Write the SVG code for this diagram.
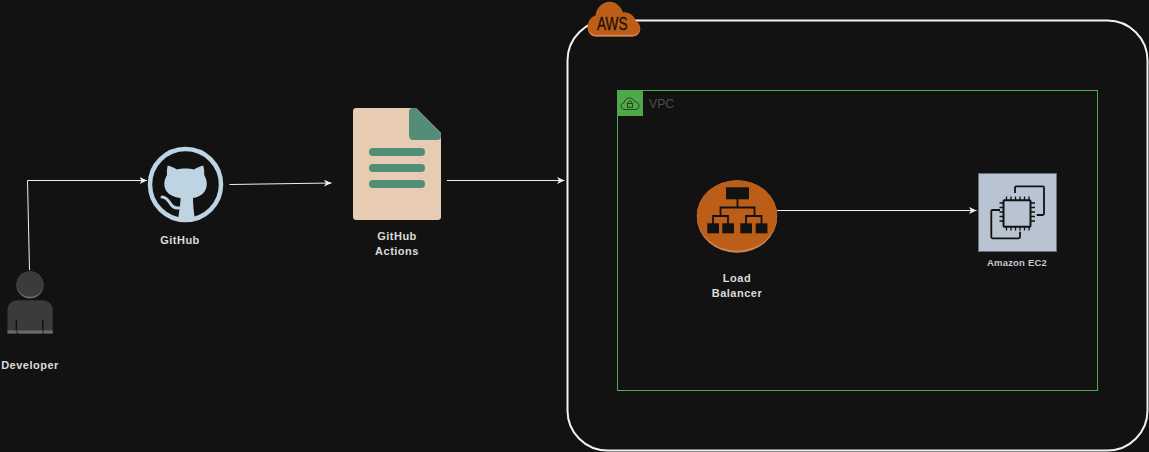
<svg xmlns="http://www.w3.org/2000/svg" width="1149" height="452" viewBox="0 0 1149 452">
<style>
text{font-family:"Liberation Sans",Arial,sans-serif;font-weight:700;font-size:11px;letter-spacing:.5px;fill:#dcdcdc;text-anchor:middle}
.c{fill:none;stroke:#f0f0f0;stroke-width:1;marker-end:url(#a)}
.k{fill:#121212}
.d{fill:#538d78}
.i{fill:none;stroke:#121212;stroke-width:1.8}
</style>
<defs>
<marker id="a" markerUnits="userSpaceOnUse" markerWidth="9" markerHeight="8" refX="7.5" refY="4" orient="auto"><path d="M0 0.5L7.5 4L0 7.5L2 4Z" fill="#f0f0f0"/></marker>
</defs>
<rect width="1149" height="452" fill="#121212"/>
<g id="aws">
<rect x="567.5" y="20.5" width="580" height="430" rx="40" fill="#121212" stroke="#f2f2f2" stroke-width="2"/>
<path d="M596 36.500C590 36.500 587.700 31 587.700 26.500C587.700 21 591 17 595.500 15.500C596.500 7 603 1.700 609.500 1.700C616 1.700 621 6.500 623 12.500C625 12 627 12.500 628.500 13C632.500 14.500 635 17.500 635.500 20.500C638.500 22 640.300 25 640.300 28.500C640.300 33 636.500 36.500 632 36.500Z" fill="#bd5e18"/>
<path d="M587.700 27C588.500 32 592 34.800 596 34.800H632C636 34.800 639.500 32.500 640.300 28.500C640.300 33 636.500 36.500 632 36.500H596C590.500 36.500 587.700 31.500 587.700 27Z" fill="#d08850"/>
<text x="612.300" y="30" textLength="30.500" lengthAdjust="spacingAndGlyphs" style="font-size:18px;letter-spacing:0;fill:#1a1208;font-weight:400;stroke:#1a1208;stroke-width:.3">AWS</text>
</g>
<g id="vpc">
<rect x="617.5" y="90.500" width="480" height="300" fill="none" stroke="#4cae4c" stroke-width="1"/>
<rect x="617" y="90" width="26" height="26" fill="#4fa84a"/>
<path d="M625 109.500C622 109.500 621 107.500 621 106C621 104 622.500 103 624 102.800C624.500 100 627 98 629.500 98C632 98 634 99.500 634.800 101.800C637.500 101.800 639 103.800 639 105.700C639 108 637.500 109.500 635 109.500Z" fill="none" stroke="#1c2b1a" stroke-width=".8"/>
<rect x="627.600" y="103.500" width="4.800" height="3.800" fill="none" stroke="#1c2b1a" stroke-width=".8"/>
<path d="M628.500 103.500V102.300A1.500 1.500 0 0 1 631.500 102.300V103.500" fill="none" stroke="#1c2b1a" stroke-width=".7"/>
<text x="649" y="108" style="font-size:12.200px;letter-spacing:0;font-weight:400;fill:#465049;text-anchor:start">VPC</text>
</g>
<g id="connectors">
<path class="c" d="M29.500 270L27.500 180.500H147"/>
<path class="c" d="M229.500 184.500L331.500 183"/>
<path class="c" d="M447 180.500H564.500"/>
<path class="c" d="M777 210.500H976.500"/>
</g>
<g id="developer">
<circle cx="30" cy="285" r="13.500" fill="#6a6b6a"/>
<ellipse cx="30" cy="284" rx="13.500" ry="12.800" fill="#393c3a"/>
<path d="M7.500 333.500V310C7.500 304 12 300.200 18 300.200H42C48 300.200 52.700 304 52.700 310V333.500Z" fill="#393c3a"/>
<path d="M7.500 330.500H16.500V333.500H7.500ZM18 330.500H42.500V333.500H18ZM44 330.500H52.700V333.500H44Z" fill="#6a6b6a"/>
<path d="M16.300 319.500V330M42.800 319.500V330" stroke="#121212" stroke-width="1.500" fill="none"/>
<text x="30" y="369">Developer</text>
</g>
<g id="github">
<circle cx="185.500" cy="184.500" r="35.500" fill="none" stroke="#bed4e2" stroke-width="4.500"/>
<path d="M167.700 165.500C171 166 174.500 168 177 169.500C182 168.300 189 168.300 194 169.500C196.500 168 200 166 203.200 165.500C204 168.500 204.500 172 204.200 175C206 178 206.800 181 206.800 184C206.800 192 200.500 197 193 198C193 203 193.500 210 195 219.500H178C179.500 210 180.500 203 180.500 198C171 197 164.300 192 164.300 184C164.300 181 165.300 178 167 175C166.700 172 167 168.500 167.700 165.500Z" fill="#bed4e2"/>
<path d="M162 197C166 197 168 200 170 203C172 206.500 175 208.500 179 208" fill="none" stroke="#bed4e2" stroke-width="3" stroke-linecap="round"/>
<text x="180" y="244">GitHub</text>
</g>
<g id="actions">
<path d="M356 108H416L441 133V217C441 218.700 439.700 220 438 220H356C354.300 220 353 218.700 353 217V111C353 109.300 354.300 108 356 108Z" fill="#e7cbb3"/>
<path d="M412.500 108H416L441 133.500V136.500C441 138.500 439.500 140 437.500 140H413C410.800 140 409 138.200 409 136V111.500C409 109.500 410.500 108 412.500 108Z" class="d"/>
<rect x="369" y="148" width="56" height="8" rx="4" class="d"/>
<rect x="369" y="164" width="56" height="8" rx="4" class="d"/>
<rect x="369" y="180" width="56" height="8" rx="4" class="d"/>
<text x="397" y="240">GitHub</text>
<text x="397" y="255">Actions</text>
</g>
<g id="lb">
<ellipse cx="737" cy="216.500" rx="40.200" ry="36.300" fill="#cf8552"/>
<ellipse cx="737" cy="215.500" rx="40.200" ry="35.300" fill="#bd5e18"/>
<rect x="726" y="187.300" width="23" height="12" class="k"/>
<rect x="707.300" y="223.300" width="11.700" height="10" class="k"/>
<rect x="722.300" y="223.300" width="11.700" height="10" class="k"/>
<rect x="740.300" y="223.300" width="11.700" height="10" class="k"/>
<rect x="755.700" y="223.300" width="11.700" height="10" class="k"/>
<path class="i" d="M737.500 199V207.500M720.500 215V207.500H754.500V215M713 224V216H728V224M746 224V216H761.500V224"/>
<text x="737" y="282">Load</text>
<text x="737" y="297">Balancer</text>
</g>
<g id="ec2">
<rect x="978.500" y="173.500" width="78" height="78" fill="#b9c4d2" stroke="#6a6f76" stroke-width="1"/>
<path class="i" d="M1015 193V187.500Q1015 186.300 1016.200 186.300H1042.800Q1044 186.300 1044 187.500V213.800Q1044 215 1042.800 215H1036.700M1000 210H992.500Q991.300 210 991.300 211.200V237.100Q991.300 238.300 992.500 238.300H1018.800Q1020 238.300 1020 237.100V231.700"/>
<rect x="1003.500" y="200.200" width="27" height="26.500" rx="1" fill="#b9c4d2" stroke="#121212" stroke-width="2"/>
<path d="M1006.500 200V196.500M1011 200V196.500M1015.500 200V196.500M1020 200V196.500M1024.500 200V196.500M1029 200V196.500M1006.500 227V230.500M1011 227V230.500M1015.500 227V230.500M1020 227V230.500M1024.500 227V230.500M1029 227V230.500M1003 203H999.500M1003 207.500H999.500M1003 212H999.500M1003 216.500H999.500M1003 221H999.500M1031 203H1035M1031 207.500H1035M1031 212H1035M1031 216.500H1035M1031 221H1035" stroke="#121212" stroke-width="1.300" fill="none"/>
<text x="1017" y="266" style="font-size:9.500px;letter-spacing:.2px;fill:#c3c8ce">Amazon EC2</text>
</g>
</svg>
